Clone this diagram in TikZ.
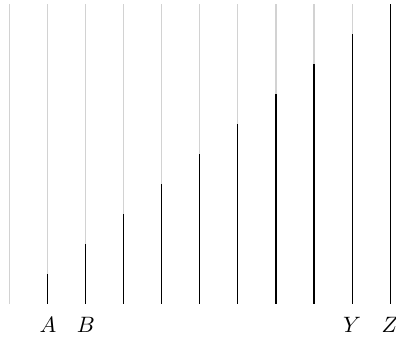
\documentclass[tikz,border=0pt]{standalone}
\usepackage{tikz}
\usetikzlibrary{positioning}

\begin{document}
\begin{tikzpicture}[
    x = 0.6cm, y = 0.4737cm,
    track/.style = {draw=gray!35, line width=0.45pt},
    level/.style = {draw=black, line width=0.45pt},
    lbl/.style   = {font=\normalsize, inner sep=2pt},
]
\useasboundingbox (-0.263,-1.233) rectangle (10.158,10.13);

%% Base points of the bars
\foreach \i in {0,...,10}
    \coordinate (b\i) at (\i,0);

%% Grey tracks, full height
\foreach \i in {0,...,10}
    \draw[track] (b\i) -- ++(0,10);

%% Black part, rising by one step per bar
\foreach \i in {1,...,10}
    \draw[level] (b\i) -- ++(0,\i);

%% Labels under the bars
\node[lbl, below=4pt of b1]  (la) {$A$};
\node[lbl, below=4pt of b2]  (lb) {$B$};
\node[lbl, below=4pt of b9]  (ly) {$Y$};
\node[lbl, below=4pt of b10] (lz) {$Z$};

\end{tikzpicture}
\end{document}
